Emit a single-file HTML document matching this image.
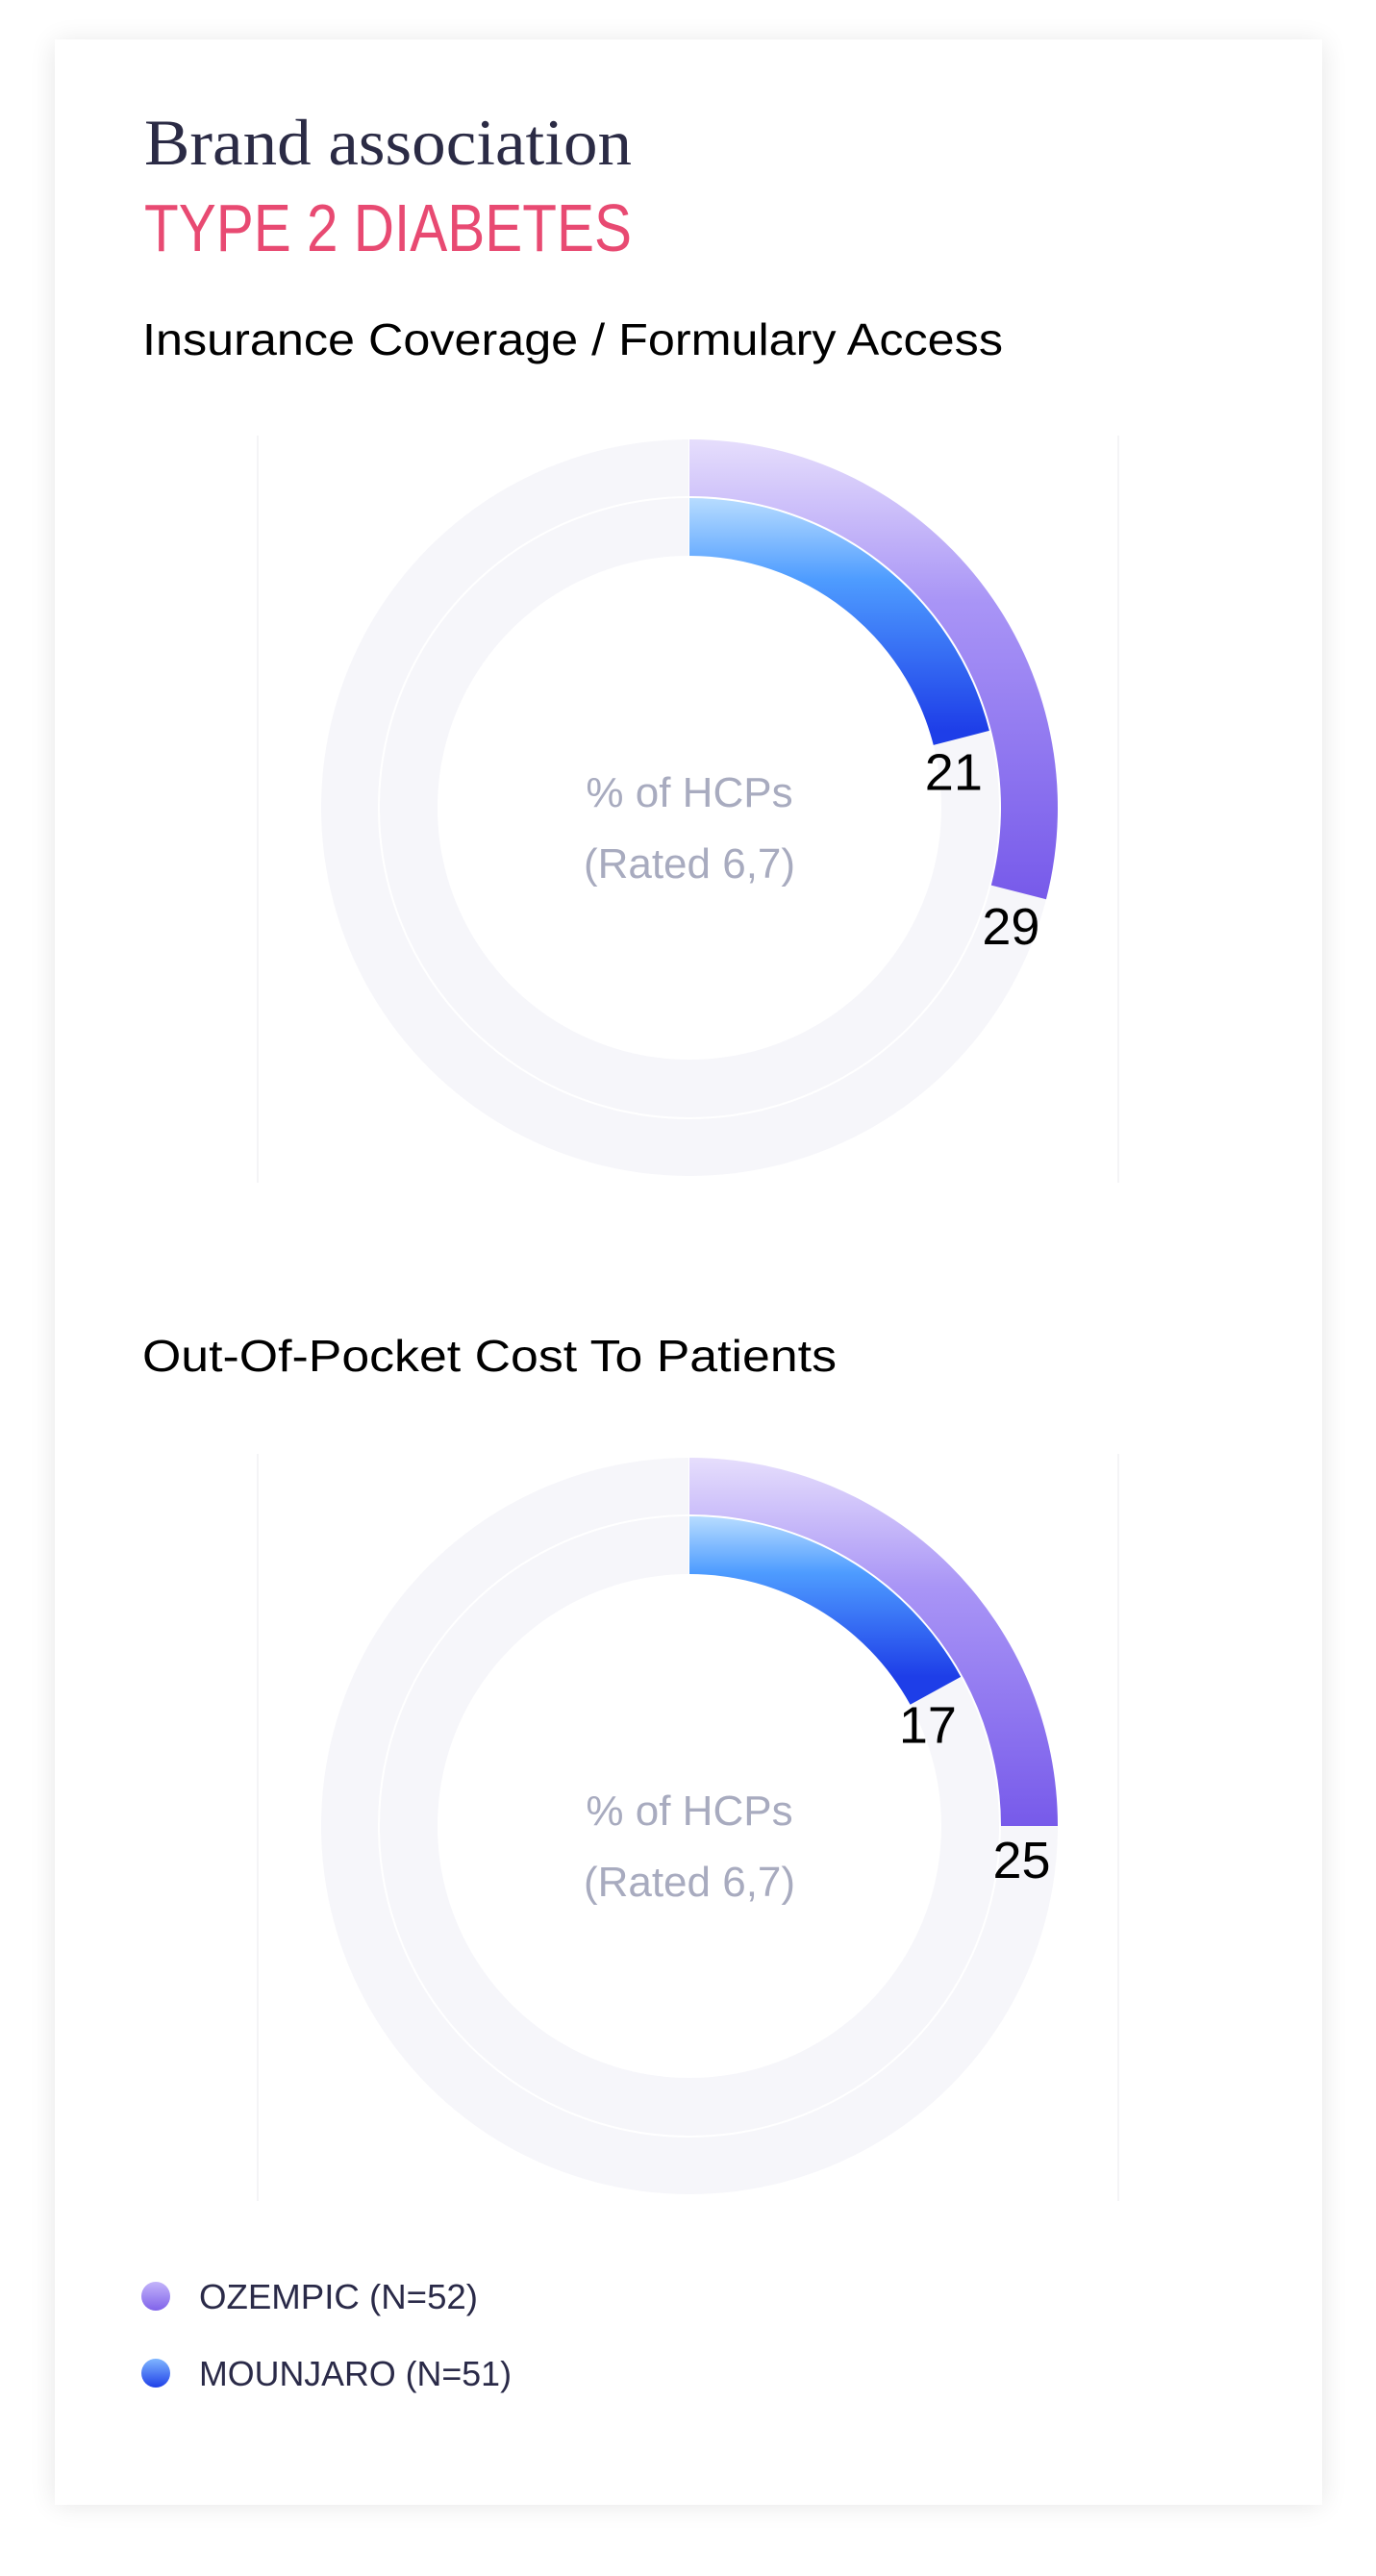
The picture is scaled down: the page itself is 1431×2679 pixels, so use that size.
<!DOCTYPE html>
<html><head><meta charset="utf-8"><style>
html,body{margin:0;padding:0;background:#fff;}
svg{display:block;}
</style></head><body>
<svg id="root" width="1431" height="2679" viewBox="0 0 1431 2679" xmlns="http://www.w3.org/2000/svg">
<defs>
<filter id="sh" x="-10%" y="-10%" width="120%" height="120%"><feGaussianBlur stdDeviation="14"/></filter>
<linearGradient id="gPurple" x1="0" y1="0" x2="0" y2="1"><stop offset="0" stop-color="#e6defc"/><stop offset="0.35" stop-color="#a995f6"/><stop offset="1" stop-color="#775aea"/></linearGradient>
<linearGradient id="gBlue" x1="0" y1="0" x2="0" y2="1"><stop offset="0" stop-color="#b7dcff"/><stop offset="0.35" stop-color="#4e9cff"/><stop offset="1" stop-color="#1e3ee8"/></linearGradient>
<linearGradient id="gDotP" x1="0" y1="0" x2="0" y2="1"><stop offset="0" stop-color="#c3b4fa"/><stop offset="1" stop-color="#8063ea"/></linearGradient>
<linearGradient id="gDotB" x1="0" y1="0" x2="0" y2="1"><stop offset="0" stop-color="#7fb6ff"/><stop offset="1" stop-color="#1f40e8"/></linearGradient>
</defs>
<rect x="57" y="44" width="1318" height="2561" fill="#000" opacity="0.10" filter="url(#sh)"/>
<rect x="57" y="41" width="1318" height="2564" fill="#fff"/>
<text x="150" y="171" font-family="'Liberation Serif', serif" font-size="68" fill="#2b2b45" textLength="507" lengthAdjust="spacingAndGlyphs">Brand association</text>
<text x="150" y="261" font-family="'Liberation Sans', sans-serif" font-size="70" fill="#e84a72" textLength="507" lengthAdjust="spacingAndGlyphs">TYPE 2 DIABETES</text>
<g id="charts"></g>
<g>
<circle cx="162" cy="2388" r="15" fill="url(#gDotP)"/>
<text x="207" y="2401" font-family="'Liberation Sans', sans-serif" font-size="36" fill="#2a2a48" textLength="290" lengthAdjust="spacingAndGlyphs">OZEMPIC (N=52)</text>
<circle cx="162" cy="2468" r="15" fill="url(#gDotB)"/>
<text x="207" y="2481" font-family="'Liberation Sans', sans-serif" font-size="36" fill="#2a2a48" textLength="325" lengthAdjust="spacingAndGlyphs">MOUNJARO (N=51)</text>
</g>
</svg>
<script>
const chartTitles = ["Insurance Coverage / Formulary Access", "Out-Of-Pocket Cost To Patients"];
const ozempicValues = [29, 25];
const mounjaroValues = [21, 17];

const NS = "http://www.w3.org/2000/svg";
const g = document.getElementById("charts");
const layout = [{cy: 840, ty: 369, tw: 895}, {cy: 1899, ty: 1426, tw: 722}];
const cx = 717, R1 = 383, R2 = 323, R3 = 262;
function pt(r, pct, cy) { const a = pct / 100 * 2 * Math.PI; return [cx + r * Math.sin(a), cy - r * Math.cos(a)]; }
function arcPath(ro, ri, pct, cy) {
  const p = Math.min(pct, 99.99);
  const large = p > 50 ? 1 : 0;
  const [x1, y1] = pt(ro, 0, cy), [x2, y2] = pt(ro, p, cy), [x3, y3] = pt(ri, p, cy), [x4, y4] = pt(ri, 0, cy);
  return `M${x1},${y1} A${ro},${ro} 0 ${large} 1 ${x2},${y2} L${x3},${y3} A${ri},${ri} 0 ${large} 0 ${x4},${y4} Z`;
}
function mk(tag, attrs, parent) { const e = document.createElementNS(NS, tag); for (const k in attrs) e.setAttribute(k, attrs[k]); (parent || g).appendChild(e); return e; }
chartTitles.forEach((title, i) => {
  const L = layout[i], cy = L.cy;
  const grp = mk("g", {});
  
  
  const t = mk("text", {x: 148, y: L.ty, "font-family": "'Liberation Sans', sans-serif", "font-size": 46, fill: "#000", textLength: L.tw, lengthAdjust: "spacingAndGlyphs"}, grp);
  t.textContent = title;
  
  
  [268, 1163].forEach(x => {
    const ln = mk("line", {x1: x, x2: x, y1: cy - 387, y2: cy + 390, stroke: "#f1f1f4", "stroke-width": 1.5}, grp);
    
    
  });
  const bg = mk("path", {d: `M${cx},${cy - R1} A${R1},${R1} 0 1 1 ${cx - 0.01},${cy - R1} Z M${cx},${cy - R3} A${R3},${R3} 0 1 0 ${cx + 0.01},${cy - R3} Z`, fill: "#f6f6fa", "fill-rule": "evenodd"}, grp);
  
  
  const sep = mk("circle", {cx: cx, cy: cy, r: R2, fill: "none", stroke: "#fff", "stroke-width": 2}, grp);
  
  
  const vs = mk("line", {x1: cx, x2: cx, y1: cy - R1, y2: cy - R3, stroke: "#fff", "stroke-width": 2}, grp);
  
  
  const series = [
    {v: ozempicValues[i], ro: R1, ri: R2 + 1, fill: "url(#gPurple)", name: "ozempic"},
    {v: mounjaroValues[i], ro: R2 - 1, ri: R3, fill: "url(#gBlue)", name: "mounjaro"}
  ];
  series.forEach(s => {
    const endY = pt(s.ro, s.v, cy)[1];
    const gid = "grad-" + s.name + i;
    const base = document.getElementById(s.name === "ozempic" ? "gPurple" : "gBlue");
    const lg = base.cloneNode(true);
    lg.setAttribute("id", gid);
    lg.setAttribute("gradientUnits", "userSpaceOnUse");
    lg.setAttribute("x1", 0); lg.setAttribute("x2", 0);
    lg.setAttribute("y1", cy - s.ro); lg.setAttribute("y2", Math.max(endY, cy - s.ro + 50));
    document.querySelector("defs").appendChild(lg);
    const a = mk("path", {d: arcPath(s.ro, s.ri, s.v, cy), fill: `url(#${gid})`}, grp);
    
    
    const [lx, ly] = pt((s.ro + s.ri) / 2, s.v, cy);
    const lbl = mk("text", {x: lx - 8, y: ly + 54, "text-anchor": "middle", "font-family": "'Liberation Sans', sans-serif", "font-size": 54, fill: "#000"}, grp);
    lbl.textContent = s.v;
    
    
  });
  const c1 = mk("text", {x: cx, y: cy - 1, "text-anchor": "middle", "font-family": "'Liberation Sans', sans-serif", "font-size": 44, fill: "#a8abbf"}, grp);
  c1.textContent = "% of HCPs";
  
  
  const c2 = mk("text", {x: cx, y: cy + 73, "text-anchor": "middle", "font-family": "'Liberation Sans', sans-serif", "font-size": 44, fill: "#a8abbf"}, grp);
  c2.textContent = "(Rated 6,7)";
  
  
});
</script>
</body></html>
